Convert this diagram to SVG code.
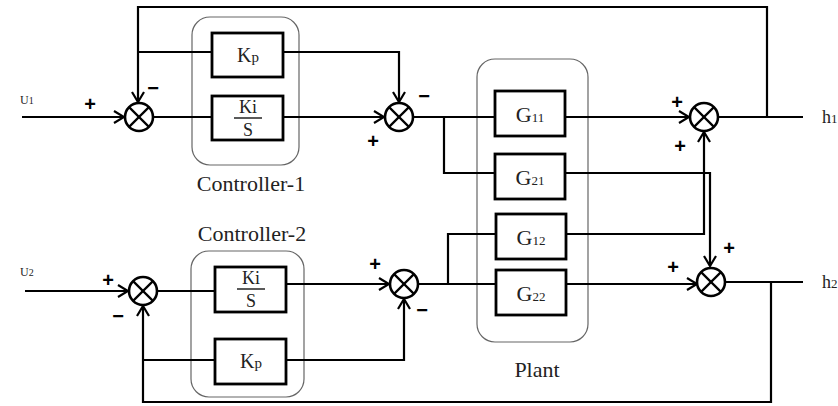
<svg xmlns="http://www.w3.org/2000/svg" width="838" height="406" viewBox="0 0 838 406">
<style>
.ln{fill:none;stroke:#000;stroke-width:2.2}
.bx{fill:#fff;stroke:#000;stroke-width:2.8}
.grp{fill:none;stroke:#666;stroke-width:1.2}
.sj{fill:#fff;stroke:#000;stroke-width:2.6}
.sx{stroke:#000;stroke-width:2.2}
text.t{font-family:'Liberation Serif','Times New Roman','DejaVu Serif',serif;fill:#222}
text.sg{font-family:'Liberation Sans',Arial,sans-serif;font-weight:bold;font-size:20px;fill:#000}
</style>
<defs>
<marker id="ah" markerWidth="14" markerHeight="14" refX="12" refY="7" orient="auto" markerUnits="userSpaceOnUse">
<path d="M2,1 L12,7 L2,13" fill="none" stroke="#000" stroke-width="2.2"/>
</marker>
<g id="sumshape">
<circle r="14" class="sj"/>
<line x1="-9.9" y1="-9.9" x2="9.9" y2="9.9" class="sx"/>
<line x1="-9.9" y1="9.9" x2="9.9" y2="-9.9" class="sx"/>
</g>
</defs>

<!-- group rectangles -->
<g id="controller1">
<rect x="192" y="17" width="107" height="148" rx="18" class="grp"/>
<text x="251" y="191" class="t" font-family="Liberation Serif, serif" font-size="22" text-anchor="middle">Controller-1</text>
</g>
<g id="controller2">
<rect x="191" y="251" width="113" height="146" rx="18" class="grp"/>
<text x="252" y="241" class="t" font-family="Liberation Serif, serif" font-size="22" text-anchor="middle">Controller-2</text>
</g>
<g id="plant">
<rect x="477" y="59" width="111" height="283" rx="18" class="grp"/>
<text x="537" y="377" class="t" font-family="Liberation Serif, serif" font-size="22" text-anchor="middle">Plant</text>
</g>

<!-- connectors -->
<g id="connectors">
<path class="ln" d="M22,117 H124" marker-end="url(#ah)"/>
<path class="ln" d="M153,117 H212"/>
<path class="ln" d="M283,117 H384" marker-end="url(#ah)"/>
<path class="ln" d="M767,117 V7 H138 V102" marker-end="url(#ah)"/>
<path class="ln" d="M138,52 H212"/>
<path class="ln" d="M283,52 H399 V102" marker-end="url(#ah)"/>
<path class="ln" d="M413,117 H495"/>
<path class="ln" d="M444,117 V173 H495"/>
<path class="ln" d="M565,117 H689" marker-end="url(#ah)"/>
<path class="ln" d="M718,117 H803"/>
<path class="ln" d="M565,173 H710 V266" marker-end="url(#ah)"/>
<path class="ln" d="M566,234 H704 V132" marker-end="url(#ah)"/>
<path class="ln" d="M25,291 H128" marker-end="url(#ah)"/>
<path class="ln" d="M157,291 H215"/>
<path class="ln" d="M286,284 H389" marker-end="url(#ah)"/>
<path class="ln" d="M418,284 H496"/>
<path class="ln" d="M448,284 V234 H496"/>
<path class="ln" d="M566,284 H697" marker-end="url(#ah)"/>
<path class="ln" d="M726,282 H803"/>
<path class="ln" d="M771,282 V402 H143 V306" marker-end="url(#ah)"/>
<path class="ln" d="M143,360 H215"/>
<path class="ln" d="M286,360 H404 V299" marker-end="url(#ah)"/>
</g>

<!-- summing junctions -->
<g id="sum1"><use href="#sumshape" x="139" y="117"/>
<text x="90" y="111" class="sg" text-anchor="middle">+</text>
<text x="153" y="95" class="sg" text-anchor="middle">−</text></g>
<g id="sum2"><use href="#sumshape" x="399" y="117"/>
<text x="424" y="103" class="sg" text-anchor="middle">−</text>
<text x="373" y="148" class="sg" text-anchor="middle">+</text></g>
<g id="sum3"><use href="#sumshape" x="704" y="117"/>
<text x="677" y="109" class="sg" text-anchor="middle">+</text>
<text x="680" y="153" class="sg" text-anchor="middle">+</text></g>
<g id="sum4"><use href="#sumshape" x="711" y="282"/>
<text x="673" y="274" class="sg" text-anchor="middle">+</text>
<text x="729" y="255" class="sg" text-anchor="middle">+</text></g>
<g id="sum5"><use href="#sumshape" x="143" y="291"/>
<text x="108" y="287" class="sg" text-anchor="middle">+</text>
<text x="118" y="323" class="sg" text-anchor="middle">−</text></g>
<g id="sum6"><use href="#sumshape" x="404" y="284"/>
<text x="375" y="271" class="sg" text-anchor="middle">+</text>
<text x="422" y="317" class="sg" text-anchor="middle">−</text></g>

<!-- blocks -->
<g id="kp1"><rect x="212" y="33" width="71" height="44" class="bx"/>
<text x="248" y="62" class="t" font-size="20" text-anchor="middle">K<tspan font-size="15">p</tspan></text></g>
<g id="kis1"><rect x="212" y="96" width="71" height="44" class="bx"/>
<text x="248" y="113" class="t" font-size="18" text-anchor="middle">Ki</text>
<line x1="234" y1="118" x2="262" y2="118" stroke="#000" stroke-width="1.3"/>
<text x="248" y="136" class="t" font-size="18" text-anchor="middle">S</text></g>
<g id="kis2"><rect x="215" y="267" width="71" height="45" class="bx"/>
<text x="251" y="284" class="t" font-size="18" text-anchor="middle">Ki</text>
<line x1="237" y1="289" x2="265" y2="289" stroke="#000" stroke-width="1.3"/>
<text x="251" y="307" class="t" font-size="18" text-anchor="middle">S</text></g>
<g id="kp2"><rect x="215" y="339" width="71" height="45" class="bx"/>
<text x="251" y="368" class="t" font-size="20" text-anchor="middle">K<tspan font-size="15">p</tspan></text></g>
<g id="g11"><rect x="495" y="91" width="70" height="45" class="bx"/>
<text x="530" y="122" class="t" font-size="22" text-anchor="middle">G<tspan font-size="13">11</tspan></text></g>
<g id="g21"><rect x="495" y="154" width="70" height="45" class="bx"/>
<text x="530" y="185" class="t" font-size="22" text-anchor="middle">G<tspan font-size="13">21</tspan></text></g>
<g id="g12"><rect x="496" y="214" width="70" height="45" class="bx"/>
<text x="531" y="245" class="t" font-size="22" text-anchor="middle">G<tspan font-size="13">12</tspan></text></g>
<g id="g22"><rect x="496" y="270" width="70" height="45" class="bx"/>
<text x="531" y="301" class="t" font-size="22" text-anchor="middle">G<tspan font-size="13">22</tspan></text></g>

<!-- io labels -->
<g id="io">
<text x="20" y="104" class="t" font-size="12">U<tspan font-size="10">1</tspan></text>
<text x="20" y="276" class="t" font-size="12">U<tspan font-size="10">2</tspan></text>
<text x="822" y="123" class="t" font-size="18">h<tspan font-size="13">1</tspan></text>
<text x="822" y="288" class="t" font-size="18">h<tspan font-size="13">2</tspan></text>
</g>
</svg>
